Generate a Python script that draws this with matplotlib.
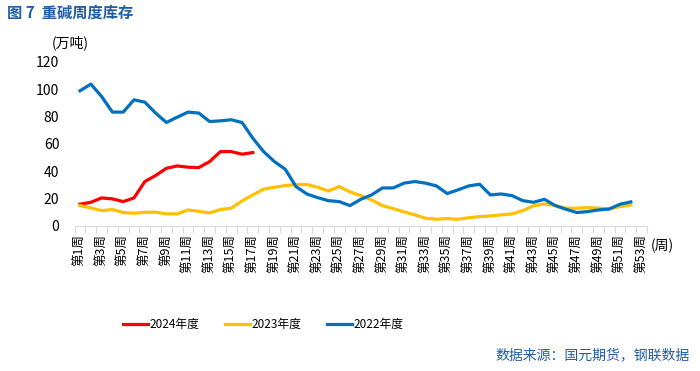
import matplotlib.pyplot as plt
from matplotlib.ticker import FixedLocator

plt.rcParams['font.family'] = ['Noto Sans CJK SC', 'DejaVu Sans']

# weekly soda ash inventory (万吨)
y2024 = [15.9, 17.3, 20.5, 19.8, 17.8, 20.5, 32.5, 36.9, 42.2, 43.9, 43.0, 42.7,
         47.1, 54.4, 54.4, 52.5, 53.7]
y2023 = [14.9, 13.2, 11.2, 12.0, 9.8, 9.3, 10.0, 10.0, 8.8, 8.8, 11.7, 10.7,
         9.5, 12.0, 13.0, 18.3, 22.7, 26.9, 28.3, 29.5, 30.3, 30.3, 28.3, 25.6,
         28.8, 24.9, 22.2, 19.0, 14.9, 12.7, 10.3, 8.1, 5.6, 4.9, 5.4, 4.9,
         6.0, 6.8, 7.3, 8.1, 8.8, 11.2, 14.7, 16.1, 14.9, 13.0, 13.0, 13.4,
         13.0, 12.4, 14.2, 15.4]
y2022 = [98.9, 103.8, 94.7, 83.3, 83.3, 92.3, 90.6, 82.6, 75.7, 79.6, 83.3, 82.6,
         76.4, 76.9, 77.7, 75.7, 64.2, 54.4, 47.1, 41.5, 28.8, 23.4, 20.7, 18.5,
         17.8, 14.9, 19.5, 22.7, 27.8, 27.8, 31.3, 32.5, 31.3, 29.3, 23.7, 26.4,
         29.3, 30.5, 22.7, 23.4, 22.2, 18.5, 17.3, 19.5, 14.9, 12.2, 9.8, 10.5,
         11.7, 12.4, 15.9, 17.6]
weeks = ['第%d周' % i for i in range(1, 54)]

fig = plt.figure(figsize=(7, 3.71), dpi=100)
ax = fig.add_axes([0.1066, 0.391, 0.8177, 0.442])

ax.plot(range(1, len(y2024) + 1), y2024, color='#FF0000', lw=2.3, label='2024年度')
ax.plot(range(1, len(y2023) + 1), y2023, color='#FFC000', lw=2.3, label='2023年度')
ax.plot(range(1, len(y2022) + 1), y2022, color='#0070C0', lw=2.3, label='2022年度')

ax.set_xlim(0.5, 53.5)
ax.set_ylim(0, 120)
ax.set_yticks(range(0, 121, 20))
ax.tick_params(axis='y', length=0, pad=11, labelsize=10, colors='#000000')

ax.set_xticks(range(1, 54, 2))
ax.set_xticklabels(weeks[::2], rotation=90, fontsize=9)
ax.tick_params(axis='x', which='major', length=0, pad=6)
ax.xaxis.set_minor_locator(FixedLocator([i + 0.5 for i in range(0, 54)]))
ax.tick_params(axis='x', which='minor', length=5, color='#D9D9D9', width=0.8)

for s in ['top', 'right', 'left']:
    ax.spines[s].set_visible(False)
ax.spines['bottom'].set_color('#D9D9D9')
ax.spines['bottom'].set_linewidth(0.8)

fig.text(0.01, 0.965, '图 7  重碱周度库存', color='#1F5FA8', fontsize=11,
         fontweight='semibold', va='center')
fig.text(0.10, 0.885, '(万吨)', fontsize=10, ha='center', va='center')
fig.text(0.929, 0.338, '(周)', fontsize=10, ha='left', va='center')

fig.legend(loc='center', bbox_to_anchor=(0.376, 0.126), ncol=3, frameon=False,
           fontsize=8.5, handlelength=2.1, handletextpad=0.1, columnspacing=2.2)

fig.text(0.985, 0.042, '数据来源：国元期货，钢联数据', color='#1F5FA8', fontsize=10,
         ha='right', va='center')

fig.savefig('out.png', dpi=100)
